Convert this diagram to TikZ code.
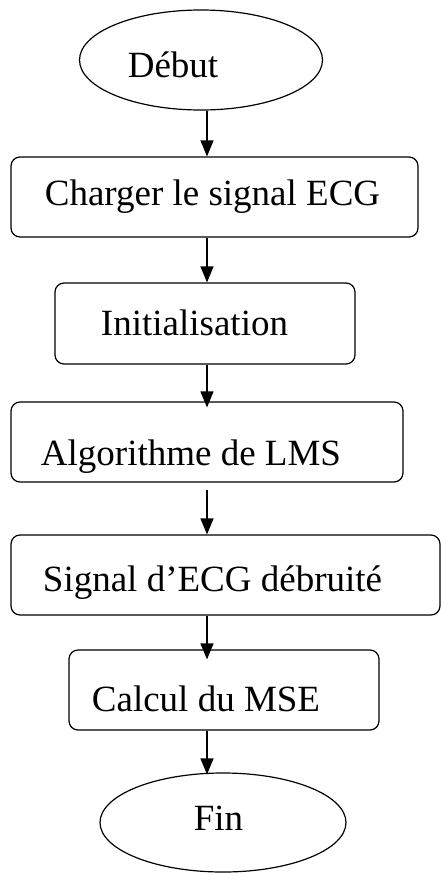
\documentclass[tikz,border=0pt]{standalone}
\usepackage{fontspec}
\setmainfont{Liberation Serif}
\usetikzlibrary{arrows.meta,shapes.geometric}
\begin{document}
\begin{tikzpicture}[x=1pt,y=-1pt,
  line width=1.2pt,
  boxstyle/.style={draw,rounded corners=9pt,inner sep=0pt},
  ovalstyle/.style={draw,ellipse,inner sep=0pt},
  lbl/.style={font=\fontsize{37}{40}\selectfont,anchor=base,inner sep=0pt},
  arr/.style={-{Triangle[length=16pt,width=13pt]}}]
\useasboundingbox (0,0) rectangle (441,873);
\coordinate (col) at (207,0);
% shapes
\node[ovalstyle,minimum width=243pt,minimum height=100pt] (deb) at (201,60) {};
\node[boxstyle,minimum width=407pt,minimum height=80pt] (b1) at (214.5,197) {};
\node[boxstyle,minimum width=300pt,minimum height=81pt] (b2) at (205,323.5) {};
\node[boxstyle,minimum width=392pt,minimum height=80pt] (b3) at (207,442) {};
\node[boxstyle,minimum width=429pt,minimum height=80pt] (b4) at (225.5,575) {};
\node[boxstyle,minimum width=310pt,minimum height=80pt] (b5) at (224,690) {};
\node[ovalstyle,minimum width=246pt,minimum height=99pt] (fin) at (223,822.5) {};
% texts
\node[lbl] (tdeb) at (173,77) {Début};
\node[lbl] (t1) at (212.5,205) {Charger le signal ECG};
\node[lbl] (t2) at (194.5,335) {Initialisation};
\node[lbl] (t3) at (191,465) {Algorithme de LMS};
\node[lbl] (t4) at (212.5,591.5) {Signal d’ECG débruité};
\node[lbl] (t5) at (206,711) {Calcul du MSE};
\node[lbl] (tfin) at (218.5,830) {Fin};
% connectors
\draw[arr] (deb.south -| col) -- (b1.north -| col);
\draw[arr] (b1.south -| col) -- (b2.north -| col);
\draw[arr,shorten >=-6pt] (b2.south -| col) -- (b3.north -| col);
\draw[arr,shorten <=7pt] (b3.south -| col) -- (b4.north -| col);
\draw[arr,shorten >=-10pt] (b4.south -| col) -- (b5.north -| col);
\draw[arr,shorten >=-2pt] (b5.south -| col) -- (fin.north -| col);
\end{tikzpicture}
\end{document}
